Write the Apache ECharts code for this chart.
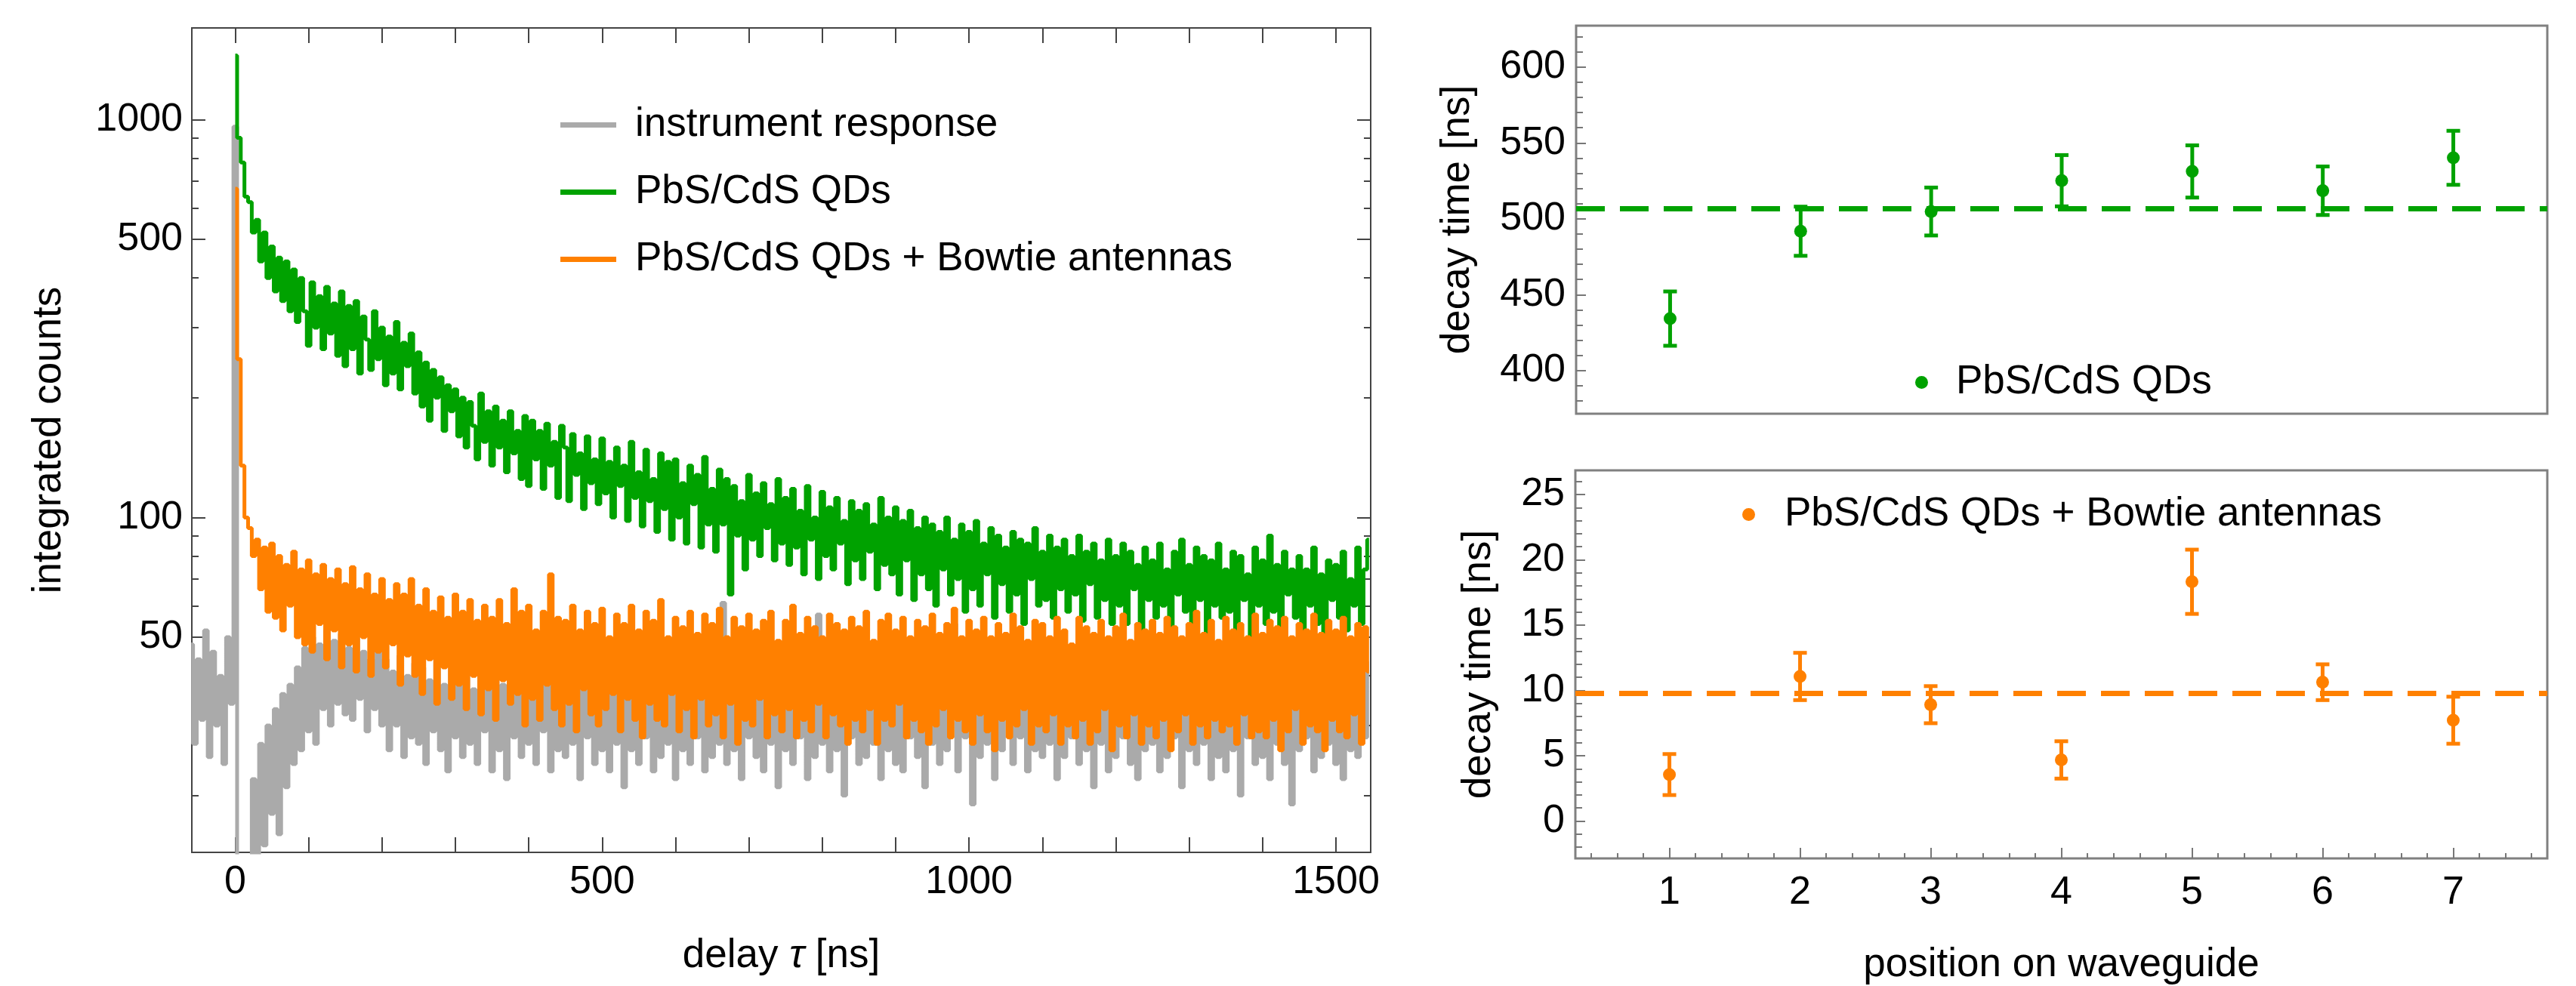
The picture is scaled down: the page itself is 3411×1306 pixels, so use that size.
<!DOCTYPE html>
<html><head><meta charset="utf-8">
<script src="https://cdn.jsdelivr.net/npm/echarts@6/dist/echarts.min.js"></script>
<style>html,body{margin:0;padding:0;background:#fff}#c{width:3411px;height:1306px}</style>
</head><body><div id="c"></div>
<script>
// ---------------- data: left panel (histogram, 5 ns bins) ----------------
const binWidth = 5;
const grayStart = -60;   // instrument response starts before 0
const qdStart = 0;       // QD traces start at 0
const instrumentCounts = [
  48, 27, 44, 31, 52, 25, 46, 30, 40, 24,
  50, 34,
  960,
  11, 9, 14, 10, 22, 12, 27, 15, 30, 18,
  33, 16, 36, 21, 38, 24, 42, 26, 47, 29,
  50, 27, 48, 33, 52, 30, 49, 34, 51, 32,
  47, 31, 50, 35, 46, 29, 44, 33, 48, 30,
  44, 26, 41, 30, 45, 25, 40, 28, 43, 27,
  42, 24, 39, 29, 46, 26, 38, 23, 44, 28,
  40, 25, 43, 27, 37, 24, 45, 29, 41, 23,
  44, 26, 38, 22, 42, 28, 47, 25, 39, 27,
  43, 24, 40, 29, 46, 23, 38, 26, 44, 25,
  41, 27, 45, 22, 39, 28, 48, 24, 42, 26,
  40, 23, 44, 27, 38, 21, 43, 26, 46, 24,
  39, 28, 45, 23, 41, 25, 47, 27, 37, 22,
  43, 26, 40, 24, 46, 28, 38, 23, 44, 25,
  41, 27, 61, 24, 42, 26, 45, 22, 39, 28,
  44, 25, 40, 23, 47, 27, 38, 21, 43, 26,
  40, 24, 46, 28, 39, 22, 44, 25, 57, 27,
  42, 23, 45, 26, 38, 20, 43, 28, 40, 24,
  46, 25, 39, 27, 44, 22, 48, 26, 41, 24,
  43, 23, 40, 28, 45, 25, 38, 21, 46, 27,
  42, 24, 47, 26, 39, 54, 23, 44, 28, 41,
  19, 43, 25, 40, 27, 46, 22, 42, 26, 39,
  45, 24, 41, 28, 48, 23, 39, 26, 44, 25,
  40, 27, 46, 22, 42, 25, 38, 28, 47, 24,
  43, 26, 39, 21, 45, 27, 41, 23, 44, 25,
  40, 28, 46, 24, 38, 22, 43, 26, 45, 27,
  41, 23, 47, 25, 39, 28, 44, 21, 42, 26,
  46, 24, 40, 27, 43, 22, 48, 25, 38, 23,
  44, 26, 41, 20, 45, 28, 39, 24, 47, 25,
  42, 22, 46, 27, 38, 24, 43, 19, 45, 26,
  40, 28, 44, 23, 47, 25, 39, 27, 42, 24,
  46, 22, 41, 26, 44, 25, 38, 28, 43
];
const qdCounts = [
  1450, 900, 780, 640, 620, 520, 560, 440, 520, 400,
  480, 370, 450, 350, 440, 330, 420, 310, 400, 330,
  270, 390, 300, 360, 265, 380, 290, 345, 255, 370,
  240, 340, 265, 350, 230, 320, 280, 235, 330, 250,
  300, 215, 285, 230, 310, 210, 275, 240, 290, 205,
  260, 190, 245, 175, 235, 200, 225, 165, 215, 185,
  210, 160, 200, 150, 195, 170, 140, 205, 155, 185,
  135, 190, 150, 175, 130, 185, 145, 165, 125, 180,
  120, 175, 140, 165, 118, 172, 135, 155, 112, 170,
  150, 110, 162, 128, 145, 105, 160, 122, 140, 108,
  158, 115, 138, 100, 150, 120, 135, 98, 155, 112,
  130, 95, 148, 110, 125, 92, 145, 105, 138, 88,
  140, 100, 122, 86, 135, 108, 128, 84, 142, 96,
  118, 82, 132, 96, 125, 64, 120, 90, 110, 74,
  128, 88, 115, 80, 122, 94, 108, 78, 125, 86,
  112, 76, 118, 84, 104, 72, 120, 88, 100, 70,
  116, 80, 106, 74, 112, 86, 98, 68, 110, 78,
  104, 70, 108, 82, 96, 66, 112, 76, 100, 72,
  106, 64, 98, 78, 104, 62, 94, 72, 100, 66,
  96, 60, 92, 74, 100, 64, 88, 70, 96, 58,
  92, 66, 98, 60, 86, 72, 94, 56, 90, 68,
  84, 58, 92, 64, 88, 54, 86, 70, 94, 60,
  82, 62, 90, 56, 84, 66, 88, 58, 80, 64,
  90, 55, 82, 68, 86, 56, 78, 62, 88, 54,
  80, 60, 86, 54, 82, 66, 76, 52, 84, 62,
  78, 56, 86, 60, 74, 52, 82, 64, 88, 58,
  76, 54, 84, 62, 80, 50, 78, 60, 86, 56,
  74, 58, 82, 52, 80, 62, 72, 50, 84, 60,
  78, 54, 90, 58, 76, 52, 82, 64, 74, 56,
  80, 52, 74, 60, 84, 54, 72, 50, 78, 62,
  76, 56, 82, 52, 70, 60, 84, 54, 74, 88
];
const bowtieCounts = [
  670, 250, 135, 100, 94, 80, 88, 66, 84, 58,
  86, 56, 80, 52, 76, 60, 82, 50, 74, 48,
  78, 46, 72, 54, 76, 44, 70, 52, 74, 42,
  68, 48, 75, 41, 66, 50, 72, 40, 64, 46,
  70, 42, 62, 48, 68, 38, 64, 45, 70, 40,
  60, 36, 66, 44, 58, 34, 63, 42, 56, 35,
  64, 38, 58, 33, 62, 40, 55, 32, 60, 37,
  56, 31, 62, 39, 54, 34, 66, 36, 58, 30,
  60, 35, 52, 31, 58, 38, 72, 33, 56, 30,
  55, 34, 60, 29, 52, 37, 58, 32, 54, 30,
  59, 33, 50, 36, 57, 29, 54, 35, 60, 31,
  52, 28, 58, 34, 55, 31, 62, 30, 50, 36,
  56, 29, 53, 33, 58, 28, 51, 35, 57, 30,
  54, 32, 59, 28, 50, 34, 56, 27, 53, 31,
  57, 30, 52, 35, 55, 28, 58, 32, 49, 29,
  55, 33, 60, 28, 51, 31, 56, 29, 53, 34,
  50, 28, 57, 32, 54, 30, 52, 27, 56, 31,
  53, 29, 58, 33, 49, 27, 55, 31, 57, 30,
  52, 34, 56, 28, 50, 31, 55, 29, 53, 27,
  57, 30, 51, 33, 54, 28, 59, 31, 50, 29,
  55, 27, 52, 32, 56, 29, 50, 26, 54, 31,
  51, 28, 57, 30, 53, 33, 49, 27, 55, 30,
  54, 29, 50, 32, 56, 27, 52, 30, 48, 28,
  56, 31, 53, 27, 51, 29, 55, 33, 50, 26,
  53, 30, 57, 28, 49, 32, 54, 27, 52, 30,
  55, 28, 51, 31, 56, 26, 53, 29, 50, 32,
  54, 27, 58, 30, 51, 28, 55, 31, 49, 29,
  56, 30, 52, 27, 54, 32, 50, 28, 57, 29,
  51, 28, 55, 31, 53, 26, 56, 29, 50, 33,
  54, 27, 52, 30, 57, 29, 51, 26, 55, 31,
  52, 29, 56, 28, 50, 32, 54, 27, 53, 41
];
const delayRange = [-59.2, 1547.3];
const countsRange = [14.4, 1700];
const delayTicks = [0,100,200,300,400,500,600,700,800,900,1000,1100,1200,1300,1400,1500];
const delayLabels = [0, 500, 1000, 1500];
const countMajorTicks = [50, 100, 500, 1000];
const countMinorTicks = [20,30,40,60,70,80,90,200,300,400,600,700,800,900];

// ---------------- data: right panels ----------------
const positions = [1, 2, 3, 4, 5, 6, 7];
const qdTau    = [434.2, 491.8, 504.8, 525.1, 531.2, 518.5, 540.2];
const qdErr    = [17.9, 16.2, 15.8, 16.9, 17.2, 16.0, 17.8];
const qdMeanTau = 506.8;
const bowtieTau = [3.56, 11.07, 8.91, 4.68, 18.32, 10.63, 7.72];
const bowtieErr = [1.57, 1.81, 1.42, 1.43, 2.46, 1.37, 1.80];
const bowtieMeanTau = 9.8;
const posRange = [0.28, 7.72];
const posMinorTicks = [0.4,0.6,0.8,1.2,1.4,1.6,1.8,2.2,2.4,2.6,2.8,3.2,3.4,3.6,3.8,4.2,4.4,4.6,4.8,5.2,5.4,5.6,5.8,6.2,6.4,6.6,6.8,7.2,7.4,7.6];
const qdRange = [371.5, 627.3];
const qdMajorTicks = [400, 450, 500, 550, 600];
const qdMinorTicks = [380,390,410,420,430,440,460,470,480,490,510,520,530,540,560,570,580,590,610,620];
const bowtieRange = [-2.86, 26.85];
const bowtieMajorTicks = [0, 5, 10, 15, 20, 25];
const bowtieMinorTicks = [-2,-1,1,2,3,4,6,7,8,9,11,12,13,14,16,17,18,19,21,22,23,24,26];

// ---------------- styling ----------------
const FONT = 'Liberation Sans';
const GREEN = '#00a200', ORANGE = '#ff8000', GRAY = '#aaaaaa';
const DARK = '#444444', FRAME2 = '#808080';
const LBL = {fontSize: 52, fontFamily: FONT, color: '#000'};
const NAME = {fontSize: 53, fontFamily: FONT, color: '#000'};
const TRACE_W = 5;

const grayDelays = instrumentCounts.map((_, i) => grayStart + i * binWidth);
const qdDelays = qdCounts.map((_, i) => qdStart + i * binWidth);
const bwDelays = bowtieCounts.map((_, i) => qdStart + i * binWidth);
const L = Math.log10;
const plain = v => String(v);

function tickAxis(o) {
  return Object.assign({
    type: 'value', splitLine: {show: false},
    axisLine: {show: false, onZero: false},
    axisLabel: {show: false}
  }, o);
}

const chart = echarts.init(document.getElementById('c'), null, {renderer: 'canvas'});

function errRender(color) {
  return function (params, api) {
    const x = api.value(0), lo = api.value(1), hi = api.value(2);
    const a = api.coord([x, lo]), b = api.coord([x, hi]);
    const cw = 18, ch = 5;
    return {type: 'group', children: [
      {type: 'line', shape: {x1: a[0], y1: a[1], x2: b[0], y2: b[1]}, style: {stroke: color, lineWidth: 5}},
      {type: 'rect', shape: {x: b[0] - cw / 2, y: b[1] - ch / 2, width: cw, height: ch}, style: {fill: color}},
      {type: 'rect', shape: {x: a[0] - cw / 2, y: a[1] - ch / 2, width: cw, height: ch}, style: {fill: color}}
    ]};
  };
}

const option = {
  animation: false,
  backgroundColor: '#fff',
  grid: [
    {left: 254, top: 37, width: 1561, height: 1092, show: true, borderColor: DARK, borderWidth: 2, backgroundColor: 'transparent'},
    {left: 2087, top: 34, width: 1286, height: 514, show: true, borderColor: FRAME2, borderWidth: 3, backgroundColor: 'transparent'},
    {left: 2086, top: 623, width: 1287, height: 515, show: true, borderColor: FRAME2, borderWidth: 3, backgroundColor: 'transparent'}
  ],
  legend: [
    {orient: 'vertical', left: 737, top: 134, itemWidth: 74, itemHeight: 7, itemGap: 36, icon: 'rect', selectedMode: false,
     data: ['instrument response', 'PbS/CdS QDs', 'PbS/CdS QDs + Bowtie antennas'],
     textStyle: Object.assign({lineHeight: 53, padding: [0, 0, 0, 20]}, NAME)},
    {orient: 'vertical', left: 2531, top: 475, itemWidth: 17, itemHeight: 17, icon: 'circle', selectedMode: false,
     data: ['PbS/CdS QDs'], textStyle: Object.assign({lineHeight: 53, padding: [0, 0, 0, 32]}, NAME)},
    {orient: 'vertical', left: 2302, top: 650, itemWidth: 17, itemHeight: 17, icon: 'circle', selectedMode: false,
     data: ['PbS/CdS QDs + Bowtie antennas'], textStyle: Object.assign({lineHeight: 53, padding: [0, 0, 0, 34]}, NAME)}
  ],
  xAxis: [
    tickAxis({gridIndex: 0, min: delayRange[0], max: delayRange[1], position: 'bottom',
      axisTick: {inside: true, length: 20, customValues: delayTicks, lineStyle: {color: DARK, width: 2}},
      axisLabel: Object.assign({show: true, customValues: delayLabels, margin: 14, formatter: plain}, LBL),
      name: '{n|delay }{t|τ}{n| [ns]}', nameLocation: 'middle', nameGap: 111,
      nameTextStyle: {rich: {n: NAME, t: Object.assign({fontStyle: 'italic'}, NAME)}}}),
    tickAxis({gridIndex: 0, min: delayRange[0], max: delayRange[1], position: 'top',
      axisTick: {inside: true, length: 20, customValues: delayTicks, lineStyle: {color: DARK, width: 2}}}),
    tickAxis({gridIndex: 1, min: posRange[0], max: posRange[1], position: 'bottom', axisTick: {show: false}}),
    tickAxis({gridIndex: 2, min: posRange[0], max: posRange[1], position: 'bottom',
      axisTick: {inside: true, length: 14, customValues: positions, lineStyle: {color: '#777', width: 2}},
      axisLabel: Object.assign({show: true, customValues: positions, margin: 20, formatter: plain}, LBL),
      name: 'position on waveguide', nameLocation: 'middle', nameGap: 115, nameTextStyle: NAME}),
    tickAxis({gridIndex: 2, min: posRange[0], max: posRange[1], position: 'bottom',
      axisTick: {inside: true, length: 7, customValues: posMinorTicks, lineStyle: {color: '#777', width: 2}}})
  ],
  yAxis: [
    {gridIndex: 0, type: 'log', logBase: 10, min: countsRange[0], max: countsRange[1], show: false},
    tickAxis({gridIndex: 0, min: L(countsRange[0]), max: L(countsRange[1]), position: 'left',
      axisTick: {inside: true, length: 18, customValues: countMajorTicks.map(L), lineStyle: {color: DARK, width: 2}},
      axisLabel: Object.assign({show: true, customValues: countMajorTicks.map(L), margin: 12,
        formatter: v => String(Math.round(Math.pow(10, v)))}, LBL),
      name: 'integrated counts', nameLocation: 'middle', nameGap: 162, nameTextStyle: NAME}),
    tickAxis({gridIndex: 0, min: L(countsRange[0]), max: L(countsRange[1]), position: 'left',
      axisTick: {inside: true, length: 9, customValues: countMinorTicks.map(L), lineStyle: {color: DARK, width: 2}}}),
    tickAxis({gridIndex: 0, min: L(countsRange[0]), max: L(countsRange[1]), position: 'right',
      axisTick: {inside: true, length: 18, customValues: countMajorTicks.map(L), lineStyle: {color: DARK, width: 2}}}),
    tickAxis({gridIndex: 0, min: L(countsRange[0]), max: L(countsRange[1]), position: 'right',
      axisTick: {inside: true, length: 9, customValues: countMinorTicks.map(L), lineStyle: {color: DARK, width: 2}}}),
    tickAxis({gridIndex: 1, min: qdRange[0], max: qdRange[1], position: 'left',
      axisTick: {inside: true, length: 13, customValues: qdMajorTicks, lineStyle: {color: '#777', width: 2}},
      axisLabel: Object.assign({show: true, customValues: qdMajorTicks, margin: 14, formatter: plain}, LBL),
      name: 'decay time [ns]', nameLocation: 'middle', nameGap: 130, nameTextStyle: NAME}),
    tickAxis({gridIndex: 1, min: qdRange[0], max: qdRange[1], position: 'left',
      axisTick: {inside: true, length: 9, customValues: qdMinorTicks, lineStyle: {color: '#777', width: 2}}}),
    tickAxis({gridIndex: 2, min: bowtieRange[0], max: bowtieRange[1], position: 'left',
      axisTick: {inside: true, length: 13, customValues: bowtieMajorTicks, lineStyle: {color: '#777', width: 2}},
      axisLabel: Object.assign({show: true, customValues: bowtieMajorTicks, margin: 14, formatter: plain}, LBL),
      name: 'decay time [ns]', nameLocation: 'middle', nameGap: 101, nameTextStyle: NAME}),
    tickAxis({gridIndex: 2, min: bowtieRange[0], max: bowtieRange[1], position: 'left',
      axisTick: {inside: true, length: 9, customValues: bowtieMinorTicks, lineStyle: {color: '#777', width: 2}}})
  ],
  series: [
    {name: 'instrument response', type: 'line', xAxisIndex: 0, yAxisIndex: 0, step: 'middle',
     data: grayDelays.map((t, i) => [t, instrumentCounts[i]]), showSymbol: false, symbol: 'none', clip: true,
     lineStyle: {color: GRAY, width: TRACE_W}, itemStyle: {color: GRAY}, silent: true, z: 2},
    {name: 'PbS/CdS QDs', type: 'line', xAxisIndex: 0, yAxisIndex: 0, step: 'middle',
     data: qdDelays.map((t, i) => [t, qdCounts[i]]), showSymbol: false, symbol: 'none', clip: true,
     lineStyle: {color: GREEN, width: TRACE_W}, itemStyle: {color: GREEN}, silent: true, z: 3},
    {name: 'PbS/CdS QDs + Bowtie antennas', type: 'line', xAxisIndex: 0, yAxisIndex: 0, step: 'middle',
     data: bwDelays.map((t, i) => [t, bowtieCounts[i]]), showSymbol: false, symbol: 'none', clip: true,
     lineStyle: {color: ORANGE, width: TRACE_W}, itemStyle: {color: ORANGE}, silent: true, z: 4},
    {name: 'qdErr', type: 'custom', xAxisIndex: 2, yAxisIndex: 5, renderItem: errRender(GREEN),
     encode: {x: 0, y: [1, 2]}, data: positions.map((p, i) => [p, qdTau[i] - qdErr[i], qdTau[i] + qdErr[i]]), z: 3, silent: true},
    {name: 'PbS/CdS QDs', type: 'scatter', xAxisIndex: 2, yAxisIndex: 5, symbolSize: 17,
     itemStyle: {color: GREEN, opacity: 1}, data: positions.map((p, i) => [p, qdTau[i]]), z: 4, silent: true,
     markLine: {silent: true, symbol: ['none', 'none'], label: {show: false},
       lineStyle: {color: GREEN, width: 7, type: [38, 20], opacity: 1}, data: [{yAxis: qdMeanTau}]}},
    {name: 'bwErr', type: 'custom', xAxisIndex: 3, yAxisIndex: 7, renderItem: errRender(ORANGE),
     encode: {x: 0, y: [1, 2]}, data: positions.map((p, i) => [p, bowtieTau[i] - bowtieErr[i], bowtieTau[i] + bowtieErr[i]]), z: 3, silent: true},
    {name: 'PbS/CdS QDs + Bowtie antennas', type: 'scatter', xAxisIndex: 3, yAxisIndex: 7, symbolSize: 17,
     itemStyle: {color: ORANGE, opacity: 1}, data: positions.map((p, i) => [p, bowtieTau[i]]), z: 4, silent: true,
     markLine: {silent: true, symbol: ['none', 'none'], label: {show: false},
       lineStyle: {color: ORANGE, width: 7, type: [38, 20], opacity: 1}, data: [{yAxis: bowtieMeanTau}]}}
  ]
};
chart.setOption(option);
</script></body></html>
